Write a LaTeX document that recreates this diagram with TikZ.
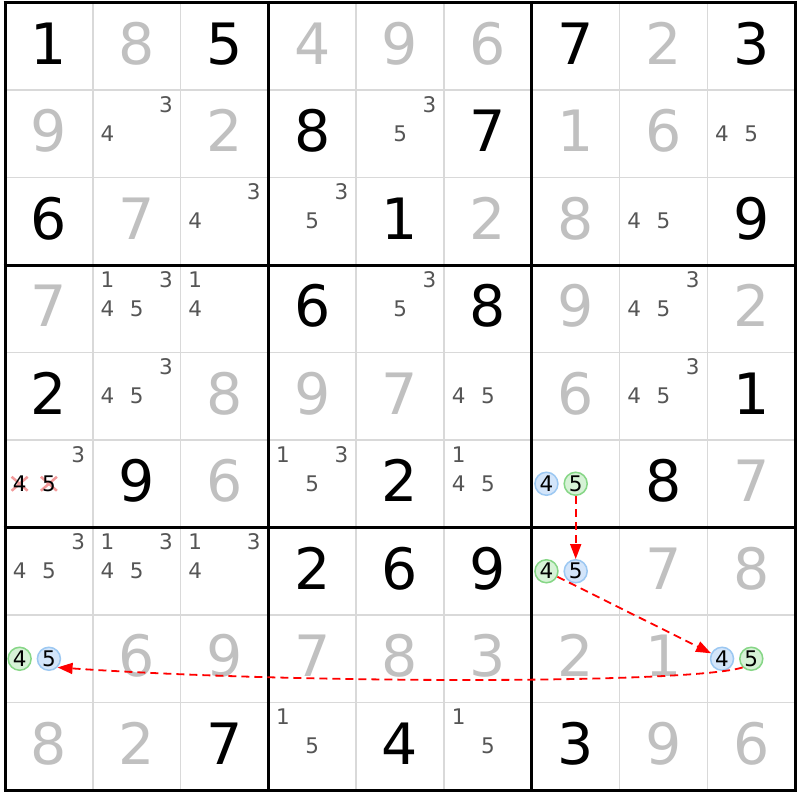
\documentclass[tikz,border=0pt]{standalone}
\usepackage{fontspec}
\setmainfont{DejaVu Sans}
\usetikzlibrary{arrows.meta}
\definecolor{solvedgray}{HTML}{C0C0C0}
\definecolor{candgray}{HTML}{555555}
\definecolor{thingrid}{HTML}{D9D9D9}
\definecolor{bluefill}{HTML}{D3E5FA}
\definecolor{bluebd}{HTML}{9CC8F2}
\definecolor{greenfill}{HTML}{D6F2D6}
\definecolor{greenbd}{HTML}{86D686}
\definecolor{xpink}{HTML}{F29A9A}
\newcommand{\sgiven}[3]{\node[givendig] (d-#1-#2) at ({5+(#2-0.5)*87.8},{-0.5+(#1-0.5)*87.5}) {#3};}
\newcommand{\ssolved}[3]{\node[solveddig] (d-#1-#2) at ({5+(#2-0.5)*87.8},{-0.5+(#1-0.5)*87.5}) {#3};}
\newcommand{\scand}[4][canddig]{%
  \pgfmathsetmacro\scx{5+(#3-1)*87.8+(2*mod(#4-1,3)+1)*87.8/6}%
  \pgfmathsetmacro\scy{2.5+(#2-1)*87.5+(2*floor((#4-1)/3)+1)*87.5/6}%
  \node[#1] (c-#2-#3-#4) at (\scx,\scy) {#4};}
\begin{document}
\begin{tikzpicture}[x=1pt,y=-1pt,
  givendig/.style={font=\fontsize{57}{57}\selectfont, text=black, inner sep=0pt, text height=42pt, text depth=0pt},
  solveddig/.style={givendig, text=solvedgray},
  canddig/.style={font=\fontsize{21.5}{21.5}\selectfont, text=candgray, inner sep=0pt, text height=15pt, text depth=0pt},
  crossdig/.style={canddig, text=black},
  bluecand/.style={canddig, text=black, circle, draw=bluebd, fill=bluefill, line width=1.5pt, minimum size=23pt},
  greencand/.style={canddig, text=black, circle, draw=greenbd, fill=greenfill, line width=1.5pt, minimum size=23pt},
  thinline/.style={thingrid, line width=1.5pt},
  thickline/.style={black, line width=3pt},
  xmark/.style={xpink, line width=2.5pt},
  chain/.style={red, line width=1.8pt, dash pattern=on 8pt off 5pt, -{Triangle[length=15pt,width=11pt]}}]
\useasboundingbox (0,0) rectangle (800,800);
\fill[white] (0,0) rectangle (800,800);
% thin grid
\foreach \i in {1,2,4,5,7,8}{
  \draw[thinline] ({5+\i*87.8},2.5) -- ({5+\i*87.8},{2.5+9*87.5});
  \draw[thinline] (5,{2.5+\i*87.5}) -- ({5+9*87.8},{2.5+\i*87.5});
}
% thick grid
\foreach \i in {0,3,6,9}{
  \draw[thickline] ({5+\i*87.8},1) -- ({5+\i*87.8},{4+9*87.5});
  \draw[thickline] (3.5,{2.5+\i*87.5}) -- ({6.5+9*87.8},{2.5+\i*87.5});
}
% givens
\sgiven{1}{1}{1}\sgiven{1}{3}{5}\sgiven{1}{7}{7}\sgiven{1}{9}{3}
\sgiven{2}{4}{8}\sgiven{2}{6}{7}
\sgiven{3}{1}{6}\sgiven{3}{5}{1}\sgiven{3}{9}{9}
\sgiven{4}{4}{6}\sgiven{4}{6}{8}
\sgiven{5}{1}{2}\sgiven{5}{9}{1}
\sgiven{6}{2}{9}\sgiven{6}{5}{2}\sgiven{6}{8}{8}
\sgiven{7}{4}{2}\sgiven{7}{5}{6}\sgiven{7}{6}{9}
\sgiven{9}{3}{7}\sgiven{9}{5}{4}\sgiven{9}{7}{3}
% solved
\ssolved{1}{2}{8}\ssolved{1}{4}{4}\ssolved{1}{5}{9}\ssolved{1}{6}{6}\ssolved{1}{8}{2}
\ssolved{2}{1}{9}\ssolved{2}{3}{2}\ssolved{2}{7}{1}\ssolved{2}{8}{6}
\ssolved{3}{2}{7}\ssolved{3}{6}{2}\ssolved{3}{7}{8}
\ssolved{4}{1}{7}\ssolved{4}{7}{9}\ssolved{4}{9}{2}
\ssolved{5}{3}{8}\ssolved{5}{4}{9}\ssolved{5}{5}{7}\ssolved{5}{7}{6}
\ssolved{6}{3}{6}\ssolved{6}{9}{7}
\ssolved{7}{8}{7}\ssolved{7}{9}{8}
\ssolved{8}{2}{6}\ssolved{8}{3}{9}\ssolved{8}{4}{7}\ssolved{8}{5}{8}\ssolved{8}{6}{3}\ssolved{8}{7}{2}\ssolved{8}{8}{1}
\ssolved{9}{1}{8}\ssolved{9}{2}{2}\ssolved{9}{8}{9}\ssolved{9}{9}{6}
% candidates
\scand{2}{2}{3}\scand{2}{2}{4}
\scand{2}{5}{3}\scand{2}{5}{5}
\scand{2}{9}{4}\scand{2}{9}{5}
\scand{3}{3}{3}\scand{3}{3}{4}
\scand{3}{4}{3}\scand{3}{4}{5}
\scand{3}{8}{4}\scand{3}{8}{5}
\scand{4}{2}{1}\scand{4}{2}{3}\scand{4}{2}{4}\scand{4}{2}{5}
\scand{4}{3}{1}\scand{4}{3}{4}
\scand{4}{5}{3}\scand{4}{5}{5}
\scand{4}{8}{3}\scand{4}{8}{4}\scand{4}{8}{5}
\scand{5}{2}{3}\scand{5}{2}{4}\scand{5}{2}{5}
\scand{5}{6}{4}\scand{5}{6}{5}
\scand{5}{8}{3}\scand{5}{8}{4}\scand{5}{8}{5}
\scand{6}{1}{3}
\coordinate (x4) at ({5+87.8/6},{2.5+5*87.5+87.5/2});
\coordinate (x5) at ({5+87.8/2},{2.5+5*87.5+87.5/2});
\foreach \p in {x4,x5}{
  \draw[xmark] ([shift={(-8,-7)}]\p) -- ([shift={(8,7)}]\p);
  \draw[xmark] ([shift={(-8,7)}]\p) -- ([shift={(8,-7)}]\p);
}
\scand[crossdig]{6}{1}{4}\scand[crossdig]{6}{1}{5}
\scand{6}{4}{1}\scand{6}{4}{3}\scand{6}{4}{5}
\scand{6}{6}{1}\scand{6}{6}{4}\scand{6}{6}{5}
\scand[bluecand]{6}{7}{4}\scand[greencand]{6}{7}{5}
\scand{7}{1}{3}\scand{7}{1}{4}\scand{7}{1}{5}
\scand{7}{2}{1}\scand{7}{2}{3}\scand{7}{2}{4}\scand{7}{2}{5}
\scand{7}{3}{1}\scand{7}{3}{3}\scand{7}{3}{4}
\scand[greencand]{7}{7}{4}\scand[bluecand]{7}{7}{5}
\scand[greencand]{8}{1}{4}\scand[bluecand]{8}{1}{5}
\scand[bluecand]{8}{9}{4}\scand[greencand]{8}{9}{5}
\scand{9}{4}{1}\scand{9}{4}{5}
\scand{9}{6}{1}\scand{9}{6}{5}
% chain
\draw[chain] (c-6-7-5) -- (c-7-7-5);
\draw[chain] (c-7-7-4) -- (c-8-9-4);
\draw[chain] (c-8-9-5.south west) .. controls (690,684) and (300,684) .. (c-8-1-5.south east);
\end{tikzpicture}
\end{document}
